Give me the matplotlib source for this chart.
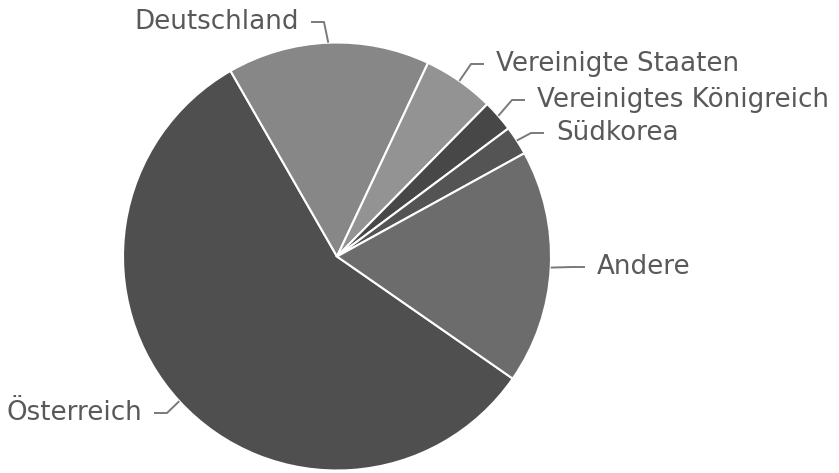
import numpy as np
import matplotlib.pyplot as plt

countries = ["Österreich", "Deutschland", "Vereinigte Staaten",
             "Vereinigtes Königreich", "Südkorea", "Andere"]
shares = [57.1, 15.3, 5.4, 2.4, 2.2, 17.7]
colors = ["#4f4f4f", "#878787", "#939393", "#474747", "#545454", "#6c6c6c"]

# label layout in pixels (from top-left): text x, text y, alignment
label_pos = {
    "Österreich": (142, 413, "right"),
    "Deutschland": (299, 22, "right"),
    "Vereinigte Staaten": (496, 64, "left"),
    "Vereinigtes Königreich": (537, 100, "left"),
    "Südkorea": (556, 133, "left"),
    "Andere": (597, 267, "left"),
}

W, H = 839, 473
cx, cy, r = 337, H - 256.5, 214

fig = plt.figure(figsize=(W / 100, H / 100), dpi=100)
ax = fig.add_axes([0, 0, 1, 1])
wedges, _ = ax.pie(shares, colors=colors, startangle=-34.8, counterclock=False,
                   center=(cx, cy), radius=r,
                   wedgeprops={"linewidth": 1.5, "edgecolor": "white"})
ax.set_xlim(0, W)
ax.set_ylim(0, H)
ax.set_aspect("equal")
ax.axis("off")

gap, seg = 12, 13
for w, name in zip(wedges, countries):
    mid = np.deg2rad((w.theta1 + w.theta2) / 2)
    ex, ey = cx + r * np.cos(mid), cy + r * np.sin(mid)
    tx, ty, ha = label_pos[name]
    ty = H - ty
    sgn = 1 if ha == "left" else -1
    end_x = tx - sgn * gap
    elbow_x = end_x - sgn * seg
    if sgn * (elbow_x - ex) < 0:
        elbow_x = ex
    ax.plot([ex, elbow_x, end_x], [ey, ty, ty], color="#7a7a7a", lw=1.4,
            solid_capstyle="butt")
    ax.text(tx, ty, name, ha=ha, va="center", fontsize=18.8,
            family="DejaVu Sans", color="#595959")

fig.savefig("out.png", dpi=100)
